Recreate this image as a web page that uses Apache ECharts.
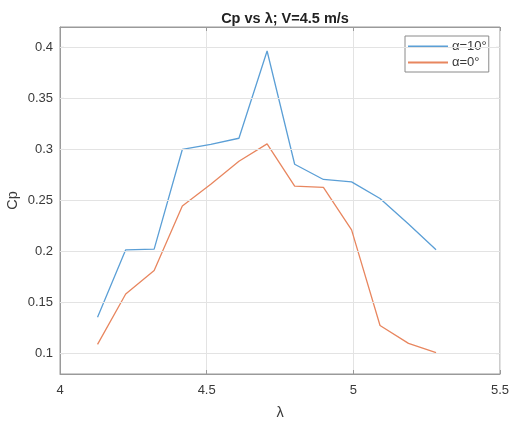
<!DOCTYPE html>
<html>
<head>
<meta charset="utf-8">
<script src="https://cdn.jsdelivr.net/npm/echarts@6/dist/echarts.min.js"></script>
<style>html,body{margin:0;padding:0;background:#fff;}#c{width:510px;height:421px;}</style>
</head>
<body>
<div id="c"></div>
<script>
const lambda = [4.128, 4.224, 4.321, 4.417, 4.514, 4.61, 4.706, 4.80, 4.898, 4.994, 5.091, 5.188, 5.282];
const cp10 = [0.1356, 0.2017, 0.2023, 0.300, 0.305, 0.311, 0.3965, 0.2855, 0.2706, 0.2683, 0.252, 0.227, 0.2017];
const cp0 = [0.109, 0.1584, 0.1815, 0.2446, 0.266, 0.2885, 0.3055, 0.264, 0.2628, 0.2212, 0.1275, 0.110, 0.1009];
const seriesNames = ['α=10°', 'α=0°'];
const xTicks = [4, 4.5, 5, 5.5];
const yTicks = [0.1, 0.15, 0.2, 0.25, 0.3, 0.35, 0.4];

const chart = echarts.init(document.getElementById('c'));
const axisCol = '#9a9a9a';
const txtCol = '#3a3a3a';
const font = 'Liberation Sans, Arial, sans-serif';
const pair = (xs, ys) => xs.map((x, i) => [x, ys[i]]);
const fmt = v => String(+v.toFixed(2));

chart.setOption({
  animation: false,
  backgroundColor: '#fff',
  title: {
    text: 'Cp vs λ; V=4.5 m/s',
    left: 280, top: 6, textAlign: 'center',
    textStyle: { fontFamily: font, fontSize: 14.5, fontWeight: 'bold', color: '#222' }
  },
  grid: { left: 60, right: 10, top: 27, bottom: 47, show: true, borderColor: axisCol, borderWidth: 1, containLabel: false, outerBoundsMode: 'none' },
  legend: {
    left: 405, top: 36,
    orient: 'vertical',
    itemWidth: 40, itemHeight: 2, itemGap: 3,
    icon: 'rect',
    backgroundColor: '#fff',
    borderColor: '#8a8a8a', borderWidth: 1, borderRadius: 0,
    padding: [4, 2, 3, 3],
    textStyle: { fontFamily: font, fontSize: 13, color: txtCol, padding: [0, 0, 0, -1] },
    data: seriesNames
  },
  xAxis: [{
    type: 'value', min: 4, max: 5.5, interval: 0.5,
    name: 'λ', nameLocation: 'middle', nameGap: 31,
    nameTextStyle: { fontFamily: font, fontSize: 14.5, color: txtCol },
    axisLine: { show: true, lineStyle: { color: axisCol } },
    axisTick: { show: true, inside: true, length: 4, lineStyle: { color: axisCol } },
    axisLabel: { fontFamily: font, fontSize: 13, color: txtCol, margin: 10, formatter: v => xTicks.includes(+v.toFixed(2)) ? fmt(v) : '' },
    splitLine: { show: true, lineStyle: { color: '#e3e3e3' } }
  }, {
    type: 'value', min: 4, max: 5.5, interval: 0.5, position: 'top',
    axisLine: { show: true, lineStyle: { color: axisCol } },
    axisTick: { show: true, inside: true, length: 4, lineStyle: { color: axisCol } },
    axisLabel: { show: false }, splitLine: { show: false }
  }],
  yAxis: [{
    type: 'value', min: 0.08, max: 0.42, interval: 0.05,
    name: 'Cp', nameLocation: 'middle', nameGap: 40, nameRotate: 90,
    nameTextStyle: { fontFamily: font, fontSize: 14.5, color: txtCol },
    axisLine: { show: true, lineStyle: { color: axisCol } },
    axisTick: { show: false },
    axisLabel: { show: false },
    splitLine: { show: false }
  }],
  series: [
    {
      name: seriesNames[0], type: 'line', data: pair(lambda, cp10),
      showSymbol: false, symbol: 'none',
      lineStyle: { color: '#5b9fd6', width: 1.3 }, itemStyle: { color: '#5b9fd6' },
      markLine: {
        silent: true, symbol: 'none', animation: false,
        label: { show: false },
        lineStyle: { color: '#e3e3e3', type: 'solid', width: 1 },
        data: yTicks.map(v => ({ yAxis: v }))
      },
      z: 3
    },
    {
      name: seriesNames[1], type: 'line', data: pair(lambda, cp0),
      showSymbol: false, symbol: 'none',
      lineStyle: { color: '#e8865f', width: 1.3 }, itemStyle: { color: '#e8865f' },
      z: 3
    }
  ],
  graphic: []
});

// y tick labels and tick marks placed by converting tick values to pixels
const g = [];
yTicks.forEach(v => {
  const p = chart.convertToPixel({ xAxisIndex: 0, yAxisIndex: 0 }, [4, v]);
  const p2 = chart.convertToPixel({ xAxisIndex: 0, yAxisIndex: 0 }, [5.5, v]);
  g.push({ type: 'text', x: p[0] - 7, y: p[1], style: { text: fmt(v), font: '13px ' + font, fill: txtCol, textAlign: 'right', textVerticalAlign: 'middle' } });
  g.push({ type: 'line', shape: { x1: p[0], y1: p[1], x2: p[0] + 4, y2: p[1] }, style: { stroke: axisCol, lineWidth: 1 } });
  g.push({ type: 'line', shape: { x1: p2[0] - 4, y1: p2[1], x2: p2[0], y2: p2[1] }, style: { stroke: axisCol, lineWidth: 1 } });
});
chart.setOption({ graphic: g });
</script>
</body>
</html>
